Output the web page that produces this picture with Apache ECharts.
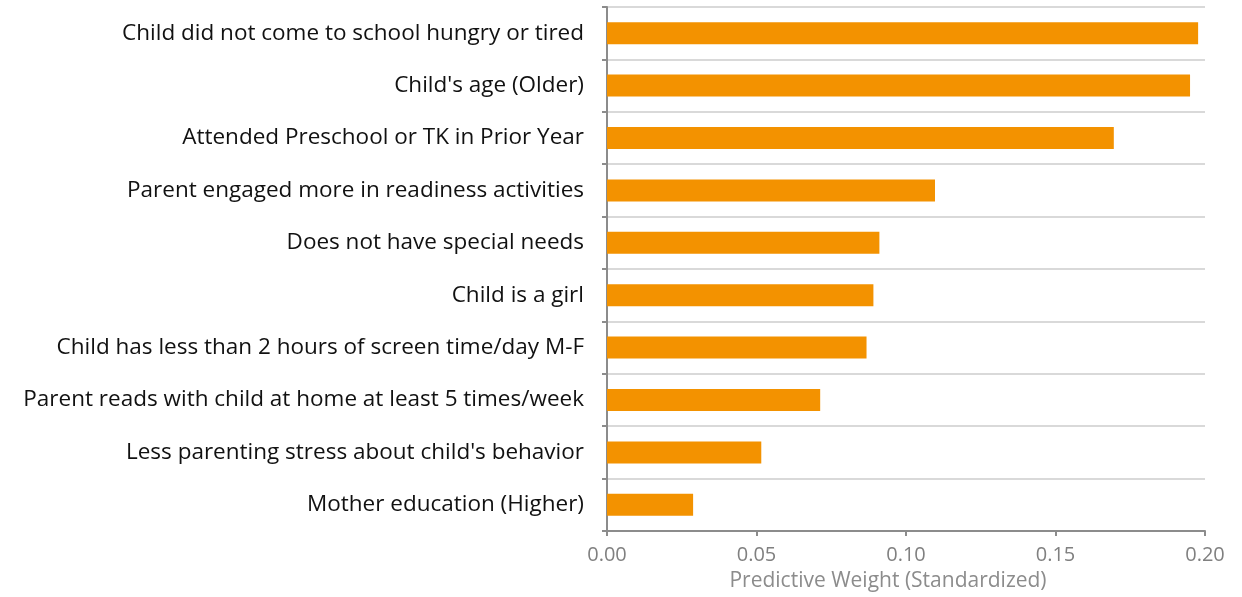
<!DOCTYPE html>
<html><head><meta charset="utf-8">
<script src="https://cdn.jsdelivr.net/npm/echarts@6/dist/echarts.min.js"></script>
<style>html,body{margin:0;padding:0;background:#fff}#c{width:1242px;height:597px}</style>
</head><body><div id="c"></div>
<script>
const categories = [
  "Child did not come to school hungry or tired",
  "Child's age (Older)",
  "Attended Preschool or TK in Prior Year",
  "Parent engaged more in readiness activities",
  "Does not have special needs",
  "Child is a girl",
  "Child has less than 2 hours of screen time/day M-F",
  "Parent reads with child at home at least 5 times/week",
  "Less parenting stress about child's behavior",
  "Mother education (Higher)"
];
const values = [0.1977, 0.195, 0.1695, 0.1097, 0.0911, 0.0891, 0.0868, 0.0713, 0.0516, 0.0288];
const xTicks = [0, 0.05, 0.10, 0.15, 0.20];
const axisName = "Predictive Weight (Standardized)";

const chart = echarts.init(document.getElementById('c'));
chart.setOption({
  animation: false,
  grid: {left: 607, right: 37, top: 7, bottom: 65},
  xAxis: {
    type: 'value', min: xTicks[0], max: xTicks[xTicks.length-1], interval: 0.05,
    name: axisName, nameLocation: 'middle', nameGap: 40,
    nameTextStyle: {color: '#8c8c8c', fontSize: 21, fontFamily: 'Open Sans', padding: [0, 36, 0, 0]},
    axisLine: {show: true, lineStyle: {color: '#8c8c8c', width: 2}},
    axisTick: {show: true, length: 5, lineStyle: {color: '#8c8c8c', width: 2}},
    axisLabel: {color: '#808080', fontSize: 20, fontFamily: 'Open Sans', margin: 14, formatter: v => v.toFixed(2)},
    splitLine: {show: false}
  },
  yAxis: {
    type: 'category', data: categories, inverse: true,
    axisLine: {show: true, lineStyle: {color: '#8c8c8c', width: 2}},
    axisTick: {show: true, length: 5, lineStyle: {color: '#8c8c8c', width: 2}},
    axisLabel: {color: '#111', fontSize: 22.5, fontFamily: 'Open Sans', margin: 23},
    splitLine: {show: true, lineStyle: {color: '#d9d9d9', width: 2}}
  },
  series: [{
    type: 'bar', data: values, barWidth: 22,
    itemStyle: {color: '#F39200'}
  }]
});
</script></body></html>
